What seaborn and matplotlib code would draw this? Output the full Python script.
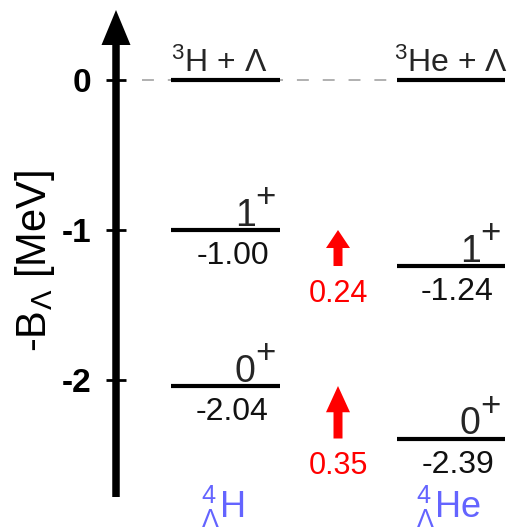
import numpy as np
import pandas as pd
import matplotlib
matplotlib.use("Agg")
import matplotlib.pyplot as plt
import seaborn as sns

# Level energies -B_Lambda (MeV) of the A=4 hypernuclei
nuclei = [r'${}^{4}_{\Lambda}$H', r'${}^{4}_{\Lambda}$He']
thresholds = [r'${}^{3}$H + Λ', r'${}^{3}$He + Λ']
levels_H = [0.0, -1.00, -2.04]
levels_He = [0.0, -1.24, -2.39]
spins = ['', '1', '0']
yticks = [0, -1, -2]

sns.set_theme(style='white')
plt.rcParams['font.family'] = ['Liberation Sans', 'DejaVu Sans']
plt.rcParams['mathtext.fontset'] = 'custom'
plt.rcParams['mathtext.rm'] = 'Liberation Sans'
plt.rcParams['mathtext.it'] = 'Liberation Sans:italic'
plt.rcParams['mathtext.bf'] = 'Liberation Sans:bold'

fig = plt.figure(figsize=(5.14, 5.29), dpi=100)
# x runs in pixel-like units so widths of arrows are easy to set
ax = fig.add_axes([116 / 514, 32 / 529, 398 / 514, 487 / 529])
ymin, ymax = -2.78, 0.4667

# columns for the two nuclei
col_left = [171, 397]
col_right = [280, 505]
label_shift = [-4.5, 0]
arrow_x = 338

# threshold reference line
ax.plot([142, 397], [0, 0], color='#aaaaaa', lw=1.3,
        ls=(0, (6.6, 7.7)), zorder=1)

for i, levels in enumerate([levels_H, levels_He]):
    l, r = col_left[i], col_right[i]
    cx = (l + r) / 2
    ax.hlines(levels, l, r, color='black', lw=3, zorder=3)
    # threshold label
    ax.annotate(thresholds[i], xy=(cx, 0), xytext=(label_shift[i], 5.5),
                textcoords='offset points', ha='center', va='baseline',
                fontsize=23)
    for e, s in zip(levels, spins):
        if not s:
            continue
        # spin and (large) parity sign
        ax.annotate(s, xy=(r, e), xytext=(-17.5, 3.2),
                    textcoords='offset points', ha='right', va='baseline',
                    fontsize=27)
        ax.annotate('+', xy=(r, e), xytext=(-3.2, 16.5),
                    textcoords='offset points', ha='right', va='baseline',
                    fontsize=25)
        ax.annotate(f'{e:.2f}', xy=(r, e), xytext=(-8, -8),
                    textcoords='offset points', ha='right', va='top',
                    fontsize=23, color='#111111')
    # nucleus name below the axis
    ax.annotate(nuclei[i], xy=(cx, 0), xycoords=('data', 'axes fraction'),
                xytext=(-2, -15), textcoords='offset points',
                ha='center', va='baseline', fontsize=26, color='#6464ff',
                annotation_clip=False)

# red arrows for the level shift between the mirror states
for k in [1, 2]:
    lo, hi = levels_He[k], levels_H[k]
    d = hi - lo
    ax.arrow(arrow_x, lo, 0, d, width=9, head_width=24, head_length=0.5 * d,
             length_includes_head=True, color='red', lw=0, zorder=3)
    ax.annotate(f'{d:.2f}', xy=(arrow_x, lo), xytext=(0, -9),
                textcoords='offset points', ha='center', va='top',
                fontsize=22, color='red')

# energy axis drawn as a thick arrow
ax.arrow(116, ymin, 0, ymax - ymin, width=7.5, head_width=29,
         head_length=35 / 150, length_includes_head=True, color='black',
         lw=0, clip_on=False, zorder=2)

ax.set_xlim(116, 514)
ax.set_ylim(ymin, ymax)
ax.set_xticks([])
ax.set_yticks(yticks, labels=[str(t) for t in yticks], fontweight='bold')
ax.tick_params(axis='y', left=True, direction='inout', length=15, width=2,
               pad=10, labelsize=24, color='black', labelcolor='black')
sns.despine(ax=ax, left=True, bottom=True)

ax.set_ylabel(r'-B$_{\Lambda}$ [MeV]', fontsize=30, color='black')
ax.yaxis.set_label_coords(-0.2035, 0.4846)
ax.yaxis.label.set_va('center')

fig.savefig('out.png', dpi=100)
